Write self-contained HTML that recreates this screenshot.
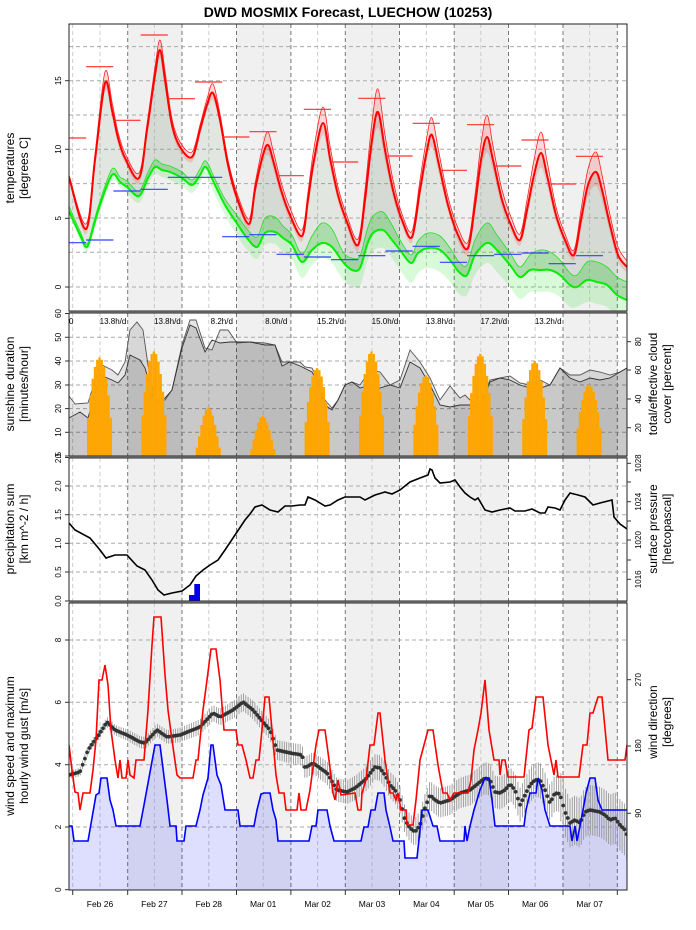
<!DOCTYPE html>
<html><head><meta charset="utf-8"><style>body{margin:0;background:#fff}svg{display:block}text{font-family:"Liberation Sans",sans-serif}</style></head>
<body>
<svg id="s" width="696" height="930" xmlns="http://www.w3.org/2000/svg"></svg>
<script>
const S=document.getElementById('s');let H='';
const X0=69,X1=627;
const P={t:[24,311],s:[313,456],p:[458,601],w:[603,890]};
H+=`<text x="348" y="17" text-anchor="middle" font-size="14" font-weight="bold">DWD MOSMIX Forecast, LUECHOW (10253)</text>`;
H+=`<defs>`;for(const k in P)H+=`<clipPath id="c${k}"><rect x="${X0}" y="${P[k][0]}" width="${X1-X0}" height="${P[k][1]-P[k][0]}"/></clipPath>`;H+=`</defs>`;
const days=[127.7,182,236.5,290.9,345.3,399.5,454.2,508.5,563,617.3];
function bg(k){const [a,b]=P[k];let h=`<rect x="${X0}" y="${a}" width="${X1-X0}" height="${b-a}" fill="#fff"/>`;
 for(let i=0;i<days.length-1;i+=2)h+=`<rect x="${days[i]}" y="${a}" width="${Math.min(days[i+1],X1)-days[i]}" height="${b-a}" fill="#f0f0f0"/>`;
 h+=`<line x1="72.7" x2="72.7" y1="${a}" y2="${b}" stroke="#ccc" stroke-dasharray="4,3"/>`;
 for(const d of days){h+=`<line x1="${d}" x2="${d}" y1="${a}" y2="${b}" stroke="#777" stroke-dasharray="4,3"/>`;}
 for(let i=0;i<10;i++){const n=100+i*54.4;h+=`<line x1="${n}" x2="${n}" y1="${a}" y2="${b}" stroke="#ccc" stroke-dasharray="4,3"/>`;}
 return h;}
function hg(k,ys){let h='';for(const y of ys)h+=`<line x1="${X0}" x2="${X1}" y1="${y}" y2="${y}" stroke="#aaa" stroke-dasharray="4,3"/>`;return h;}
function cr(p){let d=`${p[0][0]},${p[0][1]}`;for(let i=0;i<p.length-1;i++){const a=p[Math.max(i-1,0)],b=p[i],c=p[i+1],e=p[Math.min(i+2,p.length-1)];
 d+=` C${(b[0]+(c[0]-a[0])/6).toFixed(1)},${(b[1]+(c[1]-a[1])/6).toFixed(1)} ${(c[0]-(e[0]-b[0])/6).toFixed(1)},${(c[1]-(e[1]-b[1])/6).toFixed(1)} ${c[0]},${c[1]}`;}return d;}
function band(up,lo){return 'M'+cr(up)+' L'+cr(lo.slice().reverse())+'Z';}
function lin(p){return 'M'+p.map(q=>q[0].toFixed(1)+','+q[1].toFixed(1)).join(' L');}
// TEMP
H+=bg('t')+hg('t',[46.6,80.7,115,149.3,183.6,218,252.3,287]);
const R=[[69,177,2],[86,229,5],[95,160,6],[105,83,11],[112,110,8],[118,138,6],[125,158,5],[139,178,5],[147,130,6],[155,75,8],[160,50,10],[165,80,9],[172,125,6],[180,147,5],[192,157,5],[200,130,5],[207,105,6],[213,93,9],[220,120,6],[228,165,5],[237,198,5],[249,224,5],[255,190,6],[263,155,10],[268,145,13],[273,160,10],[281,190,8],[290,215,7],[302,236,6],[308,200,8],[314,160,12],[323,123,16],[330,158,12],[338,195,8],[347,222,6],[358,245,6],[365,200,10],[372,140,18],[378,112,23],[385,150,15],[393,190,10],[402,220,6],[412,237,6],[420,190,10],[427,150,14],[432,135,17],[439,165,12],[448,205,8],[458,235,7],[468,248,6],[475,205,10],[481,160,16],[487,137,22],[493,160,14],[502,200,10],[511,225,8],[520,240,6],[527,210,10],[534,175,15],[541,153,21],[547,175,14],[556,215,8],[565,240,6],[574,255,5],[581,220,10],[588,185,16],[596,172,20],[602,190,15],[610,225,10],[618,255,8],[627,267,6]];
const G=[[69,211,5,4],[80,235,4,5],[87,247,3,5],[94,225,4,5],[100,205,4,6],[112,175,6,6],[120,182,5,6],[127,187,6,6],[139,196,5,7],[148,178,6,7],[155,167,7,7],[162,170,6,7],[170,172,6,8],[182,178,6,8],[192,185,5,8],[200,175,6,8],[206,167,6,9],[215,185,6,10],[225,205,6,10],[236,222,8,12],[247,238,9,12],[257,247,10,12],[265,233,15,12],[275,232,15,12],[283,238,12,14],[292,245,10,15],[302,262,8,16],[312,250,14,15],[322,243,20,15],[332,247,18,16],[343,262,10,18],[352,270,12,16],[360,268,12,18],[367,245,15,17],[373,233,17,18],[383,230,18,18],[392,240,15,18],[400,250,10,20],[411,263,8,20],[418,253,12,20],[428,248,15,20],[440,250,14,22],[450,260,12,22],[459,272,10,22],[467,275,10,20],[475,255,15,20],[487,243,20,20],[497,250,15,22],[510,265,12,22],[520,277,10,22],[530,270,15,22],[540,270,20,22],[550,270,18,22],[560,275,15,22],[570,285,12,22],[577,287,12,20],[587,280,18,22],[597,282,20,22],[607,285,18,22],[617,295,18,22],[627,300,18,22]];
const rm=R.map(q=>[q[0],q[1]]),ru=R.map(q=>[q[0],q[1]-q[2]]),rl=R.map(q=>[q[0],q[1]+q[2]*0.6+2]);
const gm=G.map(q=>[q[0],q[1]]),gu=G.map(q=>[q[0],q[1]-q[2]]),gl=G.map(q=>[q[0],q[1]+q[3]]);
let t=`<g clip-path="url(#ct)">`;
t+=`<path d="${band(gu,gl)}" fill="#00e000" fill-opacity="0.15"/>`;
t+=`<path d="${band(gu,gm)}" fill="#00c000" fill-opacity="0.13"/>`;
t+=`<path d="${band(rm,gm)}" fill="#6a806a" fill-opacity="0.2"/>`;
t+=`<path d="${band(ru,rl)}" fill="#ff0000" fill-opacity="0.15"/>`;
t+=`<path d="M${cr(gu)}" fill="none" stroke="#22e022" stroke-width="0.8"/>`;
t+=`<path d="M${cr(ru)}" fill="none" stroke="#ff2020" stroke-width="0.8"/>`;
t+=`<path d="M${cr(gm)}" fill="none" stroke="#00ee00" stroke-width="2"/>`;
t+=`<path d="M${cr(rm)}" fill="none" stroke="#ff0000" stroke-width="2"/>`;
const rb=[138,66.7,120.3,35,98.7,82,137,131.7,175.7,109.3,162,98.3,156,123.3,170.3,124.7,166,140,184,156.3];
const bb=[242.7,240,191,189.3,177.3,177.3,236.7,234.7,254.3,257,259.7,255.7,251,246.3,262.3,255.7,254.3,253,263.7,255.7];
for(let i=0;i<20;i++){const a=59+i*27.2;t+=`<line x1="${a}" x2="${a+27.2}" y1="${rb[i]}" y2="${rb[i]}" stroke="#ff3030" stroke-width="1.2"/><line x1="${a}" x2="${a+27.2}" y1="${bb[i]}" y2="${bb[i]}" stroke="#3040ff" stroke-width="1.2"/>`;}
t+=`</g>`;H+=t;
// SUN
H+=bg('s')+hg('s',[337.3,361,385,408.6,432.3]);
const cu=[[69,396],[75,404],[88,403],[100,364],[112,370],[118,375],[125,362],[130,330],[137,322],[143,330],[148,365],[155,400],[165,400],[172,390],[182,345],[190,320],[196,320],[205,348],[212,350],[220,330],[228,330],[237,343],[250,342],[265,343],[275,345],[282,362],[290,362],[300,362],[305,367],[312,368],[318,380],[325,400],[332,408],[338,400],[345,385],[352,382],[360,385],[370,370],[380,372],[390,385],[400,380],[410,350],[420,362],[430,378],[440,400],[450,386],[460,398],[465,395],[470,400],[480,405],[490,380],[500,378],[510,376],[520,383],[530,385],[540,380],[550,385],[560,368],[570,375],[580,375],[590,370],[600,372],[610,375],[620,372],[627,368]];
const cl=[[69,418],[80,412],[88,418],[100,375],[112,380],[118,383],[125,375],[130,355],[140,360],[145,368],[155,403],[165,398],[172,390],[182,348],[190,325],[196,328],[205,352],[212,340],[220,343],[230,342],[250,342],[265,345],[275,345],[282,366],[290,362],[300,366],[312,372],[318,383],[325,405],[332,410],[338,400],[345,385],[352,382],[360,388],[370,385],[380,388],[390,385],[400,388],[410,362],[420,368],[430,385],[440,405],[450,407],[460,405],[470,405],[480,408],[490,382],[500,378],[510,380],[520,385],[530,388],[540,388],[550,385],[560,368],[570,378],[580,382],[590,378],[600,380],[610,378],[620,372],[627,368]];
let s=`<g clip-path="url(#cs)">`;
s+=`<path d="${lin(cu)} L627,456 L69,456Z" fill="#000" fill-opacity="0.1"/>`;
s+=`<path d="${lin(cl)} L627,456 L69,456Z" fill="#000" fill-opacity="0.12"/>`;
s+=`<path d="${lin(cu)}" fill="none" stroke="#555" stroke-width="0.9"/><path d="${lin(cl)}" fill="none" stroke="#333" stroke-width="0.9"/>`;
const mx=[41.5,44,20.5,17,37,44,34,43,40,30];
for(let d=0;d<10;d++){const st=87+d*54.4;for(let i=0;i<11;i++){let f=Math.pow(Math.sin(Math.PI*(i+1)/12),d==2||d==3?1.3:0.7);const v=mx[d]*f;const y=456-v*2.375;s+=`<rect x="${(st+i*2.267).toFixed(2)}" y="${y.toFixed(1)}" width="2.35" height="${(456-y).toFixed(1)}" fill="#ffa500"/>`;}}
const lab=['13.8h/d','13.8h/d','8.2h/d','8.0h/d','15.2h/d','15.0h/d','13.8h/d','17.2h/d','13.2h/d'];
lab.forEach((l,i)=>s+=`<text x="${113+i*54.4}" y="324" font-size="8" text-anchor="middle">${l}</text>`);
s+=`<text x="69" y="324" font-size="8">0</text></g>`;H+=s;
// PRECIP
H+=bg('p')+hg('p',[486,514.7,543.3,572]);
const pr=[[69,523],[75,530],[90,538],[100,550],[106,558],[115,555],[127,555],[137,566],[145,570],[152,580],[158,590],[164,595],[172,593],[182,591],[190,585],[196,576],[203,570],[210,565],[218,560],[225,550],[235,535],[245,520],[250,514],[255,507],[262,505],[270,510],[278,512],[285,506],[292,506],[300,505],[305,505],[308,497],[315,500],[325,506],[330,505],[338,500],[345,497],[360,497],[365,500],[375,495],[385,492],[392,494],[400,490],[410,482],[420,478],[428,475],[430,469],[432,470],[435,478],[440,483],[450,482],[455,480],[460,487],[465,493],[470,497],[475,500],[478,498],[485,510],[492,512],[500,510],[510,508],[515,511],[525,511],[532,509],[540,513],[545,513],[548,507],[555,508],[560,510],[565,500],[570,493],[578,495],[585,497],[593,505],[600,503],[612,500],[614,517],[620,524],[627,529]];
H+=`<g clip-path="url(#cp)"><rect x="189" y="595" width="5.5" height="6" fill="#0000ee"/><rect x="194.3" y="584" width="5.7" height="17" fill="#0000ee"/><path d="${lin(pr)}" fill="none" stroke="#000" stroke-width="1.6"/></g>`;
// WIND
H+=bg('w')+hg('w',[640,702.3,764.7,827]);
const wb=[[69,826],[72,826],[74,841],[88,841],[92,818],[96,795],[99,793],[101,778],[107,778],[110,800],[113,810],[116,826],[140,826],[144,805],[155,745],[160,745],[167,800],[170,826],[176,826],[177,841],[184,841],[186,826],[196,826],[200,810],[203,795],[208,778],[211,745],[213,745],[217,775],[221,785],[225,810],[238,810],[240,826],[254,826],[257,810],[261,794],[264,793],[270,793],[273,810],[276,820],[278,841],[309,841],[312,826],[316,826],[318,810],[327,810],[330,826],[334,841],[361,841],[364,827],[368,827],[371,810],[375,810],[378,793],[384,793],[386,810],[390,827],[393,841],[404,841],[405,858],[417,858],[420,830],[422,810],[428,810],[433,826],[437,826],[440,841],[464,841],[465,826],[467,841],[470,826],[474,810],[480,790],[485,778],[489,778],[492,800],[495,826],[524,826],[526,810],[530,793],[536,793],[538,778],[542,790],[545,810],[550,826],[570,826],[572,841],[575,826],[577,841],[580,826],[583,810],[586,793],[590,778],[595,778],[598,800],[602,810],[627,810]];
const wg=[[69,745],[72,770],[75,792],[78,793],[80,810],[83,793],[90,793],[93,770],[96,740],[99,680],[102,680],[105,665],[108,685],[111,730],[115,760],[118,778],[120,760],[122,778],[126,778],[128,760],[130,775],[134,778],[136,760],[144,760],[148,710],[152,645],[154,617],[161,617],[165,675],[168,710],[172,740],[177,775],[180,778],[193,778],[196,760],[198,760],[203,710],[207,680],[211,649],[216,649],[220,680],[224,730],[227,730],[236,730],[238,745],[242,745],[246,760],[250,778],[253,778],[256,760],[259,760],[262,730],[265,697],[269,697],[272,730],[276,775],[279,793],[284,793],[286,810],[297,810],[299,793],[301,810],[306,810],[310,790],[316,745],[319,730],[325,730],[329,760],[333,793],[335,800],[338,780],[341,795],[355,793],[358,810],[361,810],[362,793],[366,780],[370,745],[374,745],[378,713],[380,713],[385,760],[390,793],[393,793],[396,800],[398,793],[401,810],[406,810],[407,825],[413,825],[416,800],[420,760],[428,730],[433,730],[438,765],[443,793],[447,793],[450,800],[454,793],[468,793],[471,780],[474,750],[478,730],[481,713],[485,680],[489,730],[494,760],[499,760],[500,775],[502,760],[505,760],[508,777],[524,777],[529,730],[532,728],[536,697],[543,697],[548,745],[554,775],[556,760],[558,777],[579,777],[583,745],[587,745],[590,713],[593,713],[598,697],[602,697],[608,760],[625,760],[627,745]];
const wd=[[69,775],[80,772],[88,750],[100,733],[107,722],[115,730],[127,735],[140,742],[145,743],[157,730],[167,737],[180,735],[200,727],[213,713],[220,717],[233,710],[243,702],[253,710],[263,722],[270,730],[277,750],[290,753],[302,755],[305,768],[313,763],[327,773],[337,790],[347,792],[355,788],[365,780],[375,767],[380,768],[385,775],[390,785],[395,790],[400,800],[405,820],[410,828],[415,832],[420,825],[425,808],[430,795],[435,800],[440,803],[450,800],[460,793],[470,790],[480,782],[485,778],[490,780],[495,792],[500,793],[505,790],[510,784],[515,790],[520,805],[525,795],[530,785],[535,780],[540,780],[545,790],[550,803],[555,793],[560,794],[565,812],[570,823],[575,820],[580,823],[585,812],[590,810],[600,812],[605,815],[610,820],[615,818],[620,825],[625,830],[627,835]];
function interp(p,x){for(let i=0;i<p.length-1;i++)if(x<=p[i+1][0]){const f=(x-p[i][0])/(p[i+1][0]-p[i][0]);return p[i][1]+f*(p[i+1][1]-p[i][1]);}return p[p.length-1][1];}
let w=`<g clip-path="url(#cw)"><path d="${lin(wb)} L627,890 L69,890Z" fill="#0000ff" fill-opacity="0.13"/>`;
let bars='',dots='';
for(let x=69;x<=627;x+=2.267){const y=interp(wd,x);const e=4+16*(x-69)/558+(x>560?6:0);bars+=`M${x.toFixed(1)},${(y-e).toFixed(1)}V${(y+e).toFixed(1)}`;dots+=`<circle cx="${x.toFixed(1)}" cy="${y.toFixed(1)}" r="1.9" fill="#333"/>`;}
w+=`<path d="${bars}" stroke="#999" stroke-width="0.9" fill="none"/>`+dots;
w+=`<path d="${lin(wg)}" fill="none" stroke="#ff0000" stroke-width="1.6"/><path d="${lin(wb)}" fill="none" stroke="#0000ff" stroke-width="1.6"/></g>`;
H+=w;
// frames
H+=`<rect x="${X0}" y="311" width="${X1-X0}" height="2" fill="#999"/><rect x="${X0}" y="456" width="${X1-X0}" height="2" fill="#999"/><rect x="${X0}" y="601" width="${X1-X0}" height="2" fill="#999"/>`;
for(const k in P)H+=`<rect x="${X0}" y="${P[k][0]}" width="${X1-X0}" height="${P[k][1]-P[k][0]}" fill="none" stroke="#222" stroke-width="1"/>`;
// ticks
function lt(y,l){H+=`<line x1="${X0-4}" x2="${X0}" y1="${y}" y2="${y}" stroke="#333"/><text transform="translate(${X0-8},${y}) rotate(-90)" font-size="8" text-anchor="middle">${l}</text>`;}
function rt(y,l){H+=`<line x1="${X1}" x2="${X1+4}" y1="${y}" y2="${y}" stroke="#333"/><text transform="translate(${X1+14},${y}) rotate(-90)" font-size="8" text-anchor="middle">${l}</text>`;}
[[287,'0'],[218.3,'5'],[149.3,'10'],[80.7,'15']].forEach(a=>lt(...a));
[[456,'0'],[432.3,'10'],[408.6,'20'],[385,'30'],[361,'40'],[337.3,'50'],[313.5,'60']].forEach(a=>lt(...a));
[[601,'0.0'],[572,'0.5'],[543.3,'1.0'],[514.7,'1.5'],[486,'2.0'],[457.5,'2.5']].forEach(a=>lt(...a));
[[889.7,'0'],[827,'2'],[764.7,'4'],[702.3,'6'],[640,'8']].forEach(a=>lt(...a));
[[427.7,'20'],[399,'40'],[370,'60'],[341.7,'80']].forEach(a=>rt(...a));
[[579.3,'1016'],[540,'1020'],[501.7,'1024'],[463.3,'1028']].forEach(a=>rt(...a));
[[560,''],[521,''],[482,'']].forEach(a=>H+=`<line x1="${X1}" x2="${X1+4}" y1="${a[0]}" y2="${a[0]}" stroke="#333"/>`);
[[813.3,'90'],[746,'180'],[679.7,'270']].forEach(a=>rt(...a));
H+=`<line x1="72.7" x2="72.7" y1="890" y2="895" stroke="#333"/>`;
days.forEach(d=>H+=`<line x1="${d}" x2="${d}" y1="890" y2="895" stroke="#333"/>`);
['Feb 26','Feb 27','Feb 28','Mar 01','Mar 02','Mar 03','Mar 04','Mar 05','Mar 06','Mar 07'].forEach((l,i)=>H+=`<text x="${100+i*54.4}" y="907" font-size="8.5" text-anchor="middle">${l}</text>`);
function at(x,y,a,b){H+=`<text transform="translate(${x},${y}) rotate(-90)" font-size="12" text-anchor="middle"><tspan x="0" y="0">${a}</tspan><tspan x="0" y="14">${b}</tspan></text>`;}
at(14,168,'temperatures','[degrees C]');at(14,384,'sunshine duration','[minutes/hour]');at(14,529,'precipitation sum','[km m^-2 / h]');at(14,746,'wind speed and maximum','hourly wind gust [m/s]');
at(657,384,'total/effective cloud','cover [percent]');at(657,529,'surface pressure','[hetcopascal]');at(657,722,'wind direction','[degrees]');
S.innerHTML=H;
</script>
</body></html>
